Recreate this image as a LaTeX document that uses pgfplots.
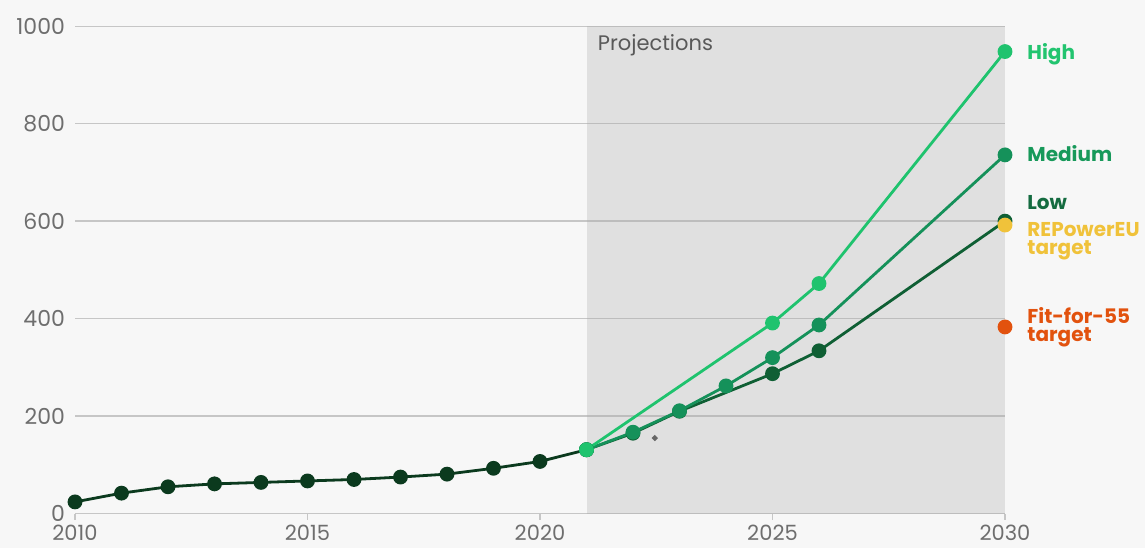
\documentclass[border=0pt]{standalone}
\usepackage{fontspec}
\setmainfont{Poppins}
\usepackage{pgfplots}
\pgfplotsset{compat=1.18}

\definecolor{bgcol}{HTML}{F7F7F7}
\definecolor{projcol}{HTML}{E0E0E0}
\definecolor{gridcol}{HTML}{C6C6C6}
\definecolor{gridcoldark}{HTML}{BDBDBD}
\definecolor{tickcol}{HTML}{6E6E6E}
\definecolor{histcol}{HTML}{0B3A1E}
\definecolor{lowcol}{HTML}{0F5F34}
\definecolor{medcol}{HTML}{15915A}
\definecolor{highcol}{HTML}{1FC36E}
\definecolor{repcol}{HTML}{F0C23A}
\definecolor{fitcol}{HTML}{E2520E}
\definecolor{lowtxt}{HTML}{146B40}
\definecolor{medtxt}{HTML}{17995A}
\definecolor{hightxt}{HTML}{22C46F}

% installed capacity, historical and scenario paths
\pgfplotstableread{
year val
2010 24
2011 42
2012 55
2013 61
2014 64
2015 67
2016 70
2017 75
2018 81
2019 93
2020 107
2021 131
}\histdata
\pgfplotstableread{
year val
2021 131
2022 165
2023 210
2025 287
2026 334
2030 600
}\lowdata
\pgfplotstableread{
year val
2021 131
2022 167
2023 211
2024 262
2025 320
2026 387
2030 736
}\meddata
\pgfplotstableread{
year val
2021 131
2025 391
2026 472
2030 948
}\highdata

\begin{document}
\begin{tikzpicture}
\fill[bgcol] (0pt,0pt) rectangle (572.5pt,274pt);
\begin{axis}[
  at={(37.5pt,17.2pt)}, anchor=south west,
  width=465pt, height=243.7pt, scale only axis,
  xmin=2010, xmax=2030, ymin=0, ymax=1000,
  clip=false,
  axis line style={draw=none},
  xtick={2010,2015,...,2030},
  ytick={0,200,...,1000},
  xtick pos=bottom, ytick pos=left, tick align=outside,
  xtick style={color=gridcol, line width=0.7pt},
  ytick style={draw=none},
  major tick length=3pt,
  ymajorgrids, grid style={color=gridcol, line width=0.7pt},
  /pgf/number format/assume math mode=true,
  /pgf/number format/set thousands separator={},
  tick label style={font=\fontsize{11}{13}\selectfont, text=tickcol},
  yticklabel style={xshift=1.5pt},
  xticklabel style={font=\fontsize{10.5}{12}\selectfont, yshift=1pt},
  every axis plot/.append style={line width=1.4pt, mark=*, mark size=3pt},
]
% shaded projection period, with its grid lines drawn again on top
\addplot[fill=projcol, draw=none, mark=none, forget plot]
  coordinates {(2021,0) (2021,1000) (2030,1000) (2030,0)} -- cycle;
\foreach \g in {0,200,400,600,800,1000} {
  \edef\temp{\noexpand\draw[gridcoldark, line width=0.7pt] (axis cs:2021,\g) -- (axis cs:2030,\g);}
  \temp
}

\node[anchor=base west, text=black!65, font=\fontsize{10.5}{12}\selectfont, inner sep=0pt, xshift=5.5pt]
  at (axis cs:2021,950) {Projections};

\addplot[color=histcol, mark options={fill=histcol, draw=none}] table[x=year, y=val] {\histdata};
\addplot[color=lowcol, mark options={fill=lowcol, draw=none}] table[x=year, y=val] {\lowdata};
\addplot[color=medcol, mark options={fill=medcol, draw=none}] table[x=year, y=val] {\meddata};
\addplot[color=highcol, mark options={fill=highcol, draw=none}] table[x=year, y=val] {\highdata};
\addplot[only marks, color=repcol, mark options={fill=repcol, draw=none}] coordinates {(2030,592)};
\addplot[only marks, color=fitcol, mark options={fill=fitcol, draw=none}] coordinates {(2030,383)};
\addplot[only marks, color=black!60, mark size=0.6pt, mark options={fill=black!60, draw=none}] coordinates {(2022.47,155)};

\begin{scope}[every node/.style={anchor=base west, inner sep=0pt, xshift=11pt, font=\fontsize{10}{12}\selectfont\bfseries}]
  \node[text=hightxt] at (axis cs:2030,932) {High};
  \node[text=medtxt] at (axis cs:2030,722) {Medium};
  \node[text=lowtxt] at (axis cs:2030,623) {Low};
  \node[text=repcol] at (axis cs:2030,569) {REPowerEU};
  \node[text=repcol] at (axis cs:2030,532) {target};
  \node[text=fitcol] at (axis cs:2030,391) {Fit-for-55};
  \node[text=fitcol] at (axis cs:2030,354) {target};
\end{scope}
\end{axis}
\pgfresetboundingbox
\useasboundingbox (0pt,0pt) rectangle (572.5pt,274pt);
\end{tikzpicture}
\end{document}
